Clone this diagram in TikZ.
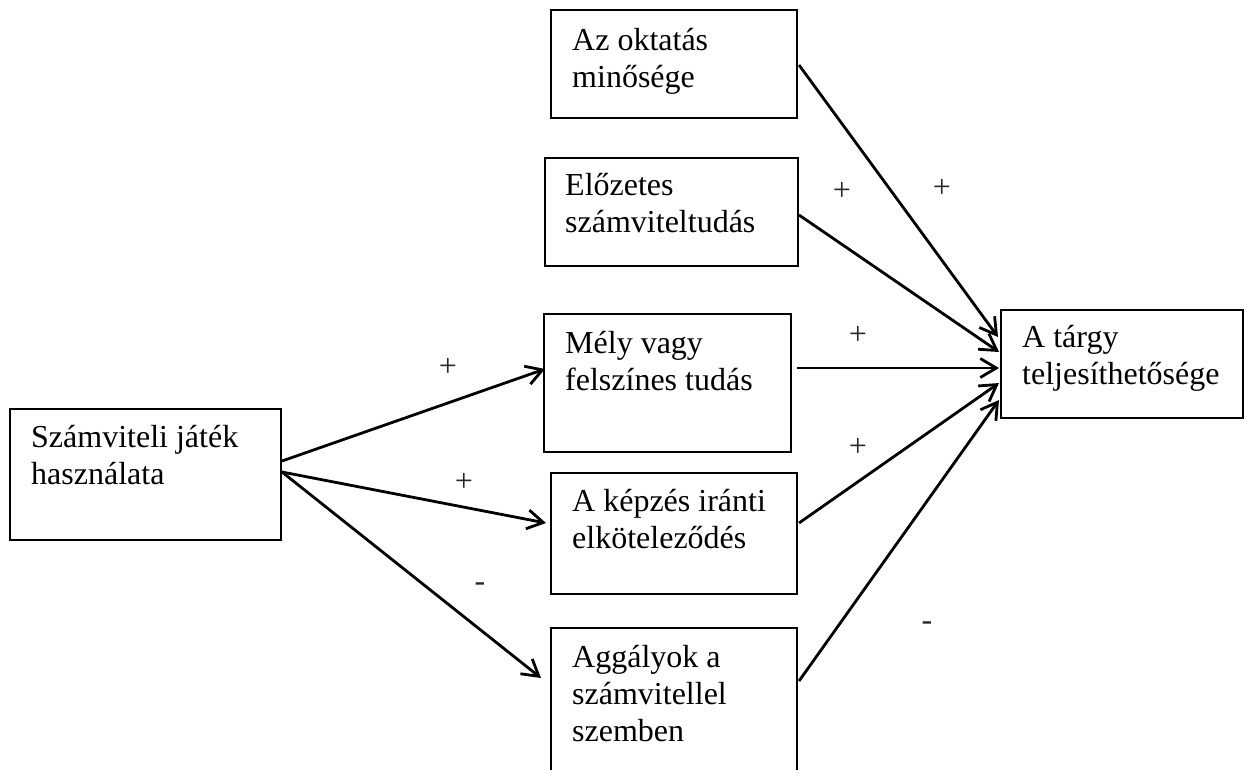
\documentclass[tikz,border=0pt]{standalone}
\usepackage{fontspec}
\setmainfont{Liberation Serif}
\usetikzlibrary{calc,arrows.meta}
\tikzset{
  box/.style={draw=black, line width=2pt, inner sep=0pt, anchor=north west},
  txt/.style={inner sep=0pt, anchor=base west},
  sign/.style={inner sep=0pt, text=black!85, font=\fontsize{32}{37}\selectfont},
  conn/.style={line width=2.8pt, -{Straight Barb[length=16pt,width=19pt]}},
}
\newcommand{\boxtext}[1]{\parbox[t]{300pt}{\fontsize{32}{37}\selectfont #1}}
\begin{document}
\begin{tikzpicture}[x=1pt,y=-1pt]
\path[use as bounding box] (0,0) rectangle (1244,769);
\clip (0,0) rectangle (1244,769);
\fill[white] (0,0) rectangle (1244,769);
% boxes
\node[box, minimum width=246pt, minimum height=108pt] (okt) at (550,9) {};
\node[box, minimum width=253pt, minimum height=108pt] (elo) at (544,157) {};
\node[box, minimum width=271pt, minimum height=131pt] (szam) at (9,408) {};
\node[box, minimum width=247pt, minimum height=138pt] (mely) at (543,313) {};
\node[box, minimum width=246pt, minimum height=121pt] (kep) at (550,472) {};
\node[box, minimum width=246pt, minimum height=160pt] (agg) at (550,627) {};
\node[box, minimum width=242pt, minimum height=108pt] (targ) at (1000,309) {};
% texts
\node[txt] (okt-t) at (572,50) {\boxtext{Az oktatás\\minősége}};
\node[txt] (elo-t) at (565,195) {\boxtext{Előzetes\\számviteltudás}};
\node[txt] (szam-t) at (31,447) {\boxtext{Számviteli játék\\használata}};
\node[txt] (mely-t) at (565,353) {\boxtext{Mély vagy\\felszínes tudás}};
\node[txt] (kep-t) at (572,511) {\boxtext{A képzés iránti\\elköteleződés}};
\node[txt] (agg-t) at (572,667) {\boxtext{Aggályok a\\számvitellel\\szemben}};
\node[txt] (targ-t) at (1022,347) {\boxtext{A tárgy\\teljesíthetősége}};
% connectors
\draw[conn] ($(szam.north east)+(0,53)$) -- ($(mely.north west)+(2,56)$);
\draw[conn] ($(szam.north east)+(0,64)$) -- ($(kep.north west)+(-4,51)$);
\draw[conn] ($(szam.north east)+(0,64)$) -- ($(agg.north west)+(-9,51)$);
\draw[conn] ($(okt.north east)+(1,56)$) -- ($(targ.north west)+(-2,28)$);
\draw[conn] ($(elo.north east)+(0,58)$) -- ($(targ.north west)+(-1,43)$);
\draw[conn] ($(mely.north east)+(5,55)$) -- ($(targ.north west)+(-1,59)$);
\draw[conn] ($(kep.north east)+(1,51)$) -- ($(targ.north west)+(-1,74)$);
\draw[conn] ($(agg.north east)+(1,54)$) -- ($(targ.north west)+(-1,91)$);
% signs
\node[sign] (s1) at (448,367) {+};
\node[sign] (s2) at (464,482) {+};
\node[sign] (s3) at (480,587) {-};
\node[sign] (s4) at (842,191) {+};
\node[sign] (s5) at (942,188) {+};
\node[sign] (s6) at (858,335) {+};
\node[sign] (s7) at (858,447) {+};
\node[sign] (s8) at (927,626) {-};
\end{tikzpicture}
\end{document}
